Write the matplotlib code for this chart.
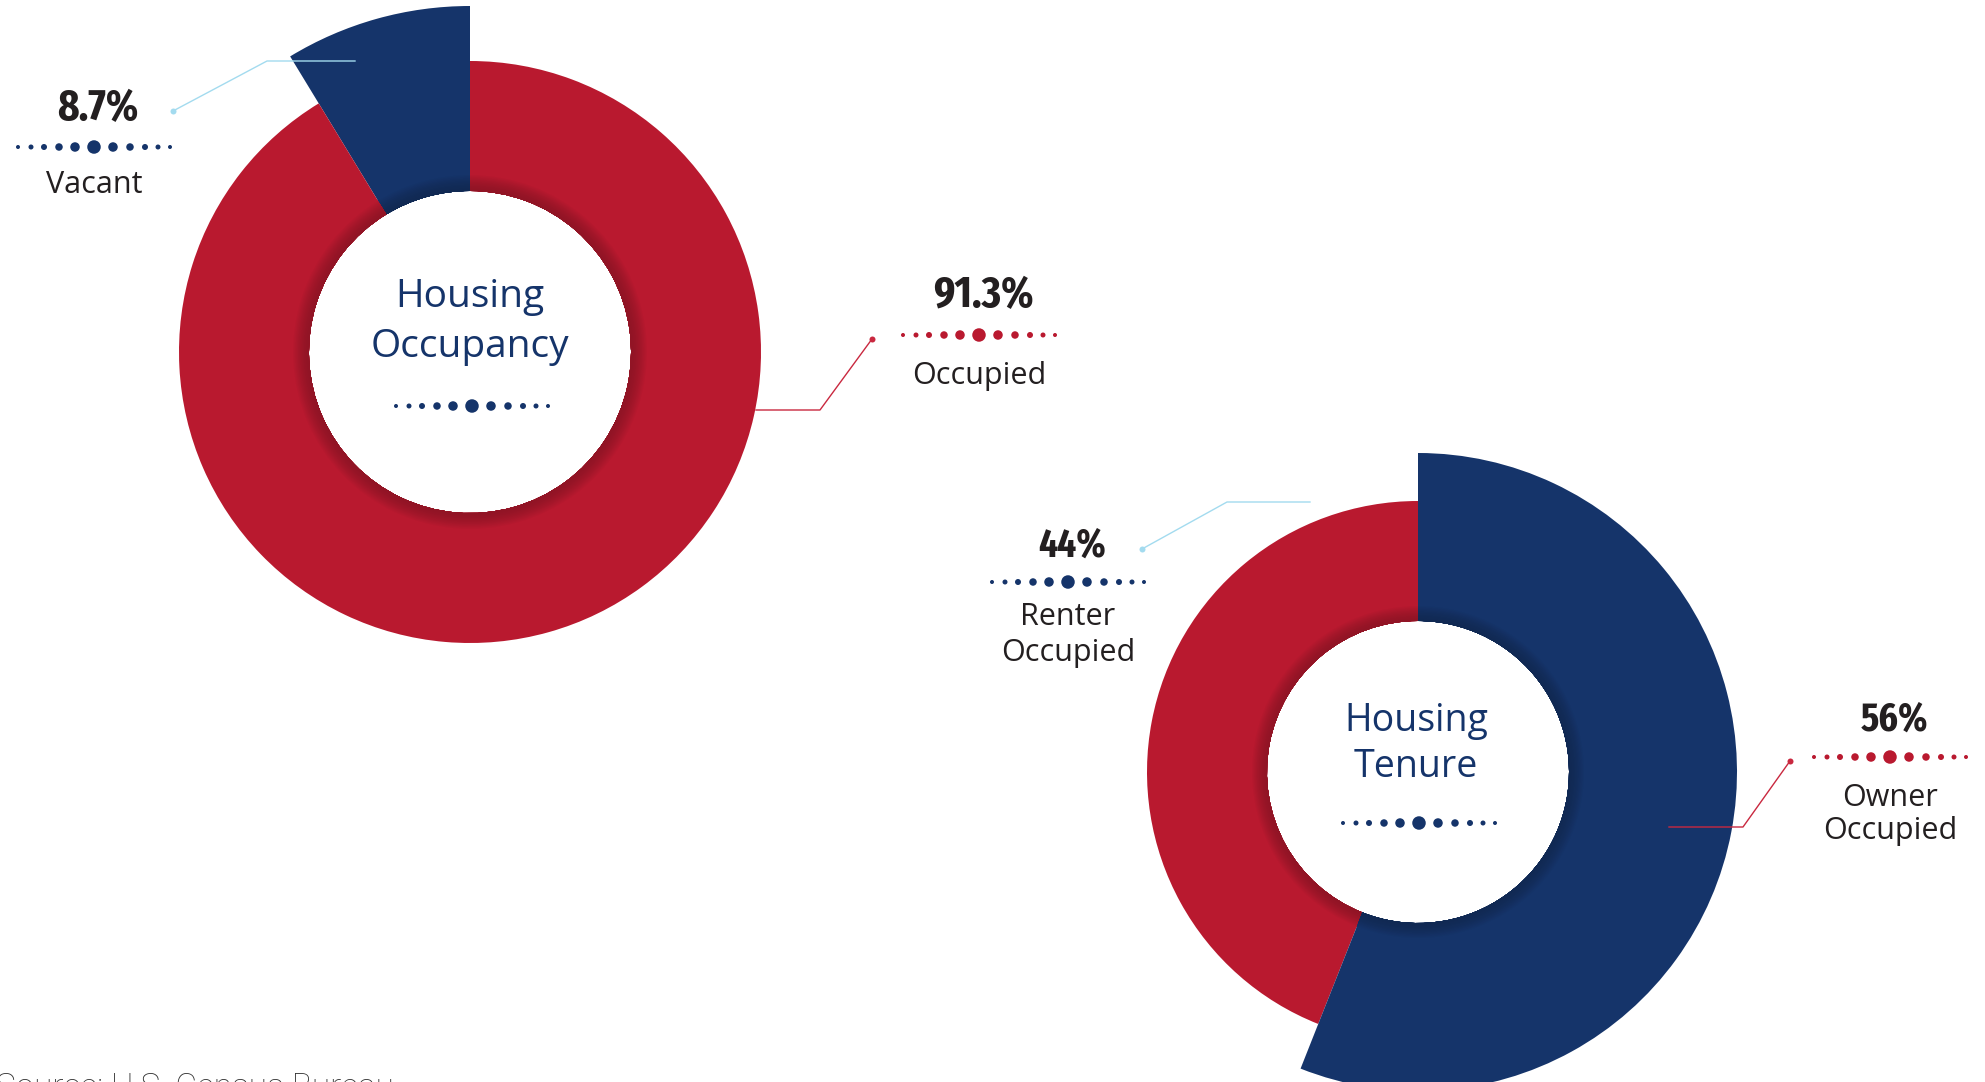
import numpy as np
import matplotlib.pyplot as plt
from matplotlib import font_manager as fm
from matplotlib.patches import Wedge
from matplotlib.colors import to_rgb

W, H = 1985, 1082

# data
occupancy_labels = ['Vacant', 'Occupied']
occupancy_values = [8.7, 91.3]
tenure_labels = ['Renter\nOccupied', 'Owner\nOccupied']
tenure_values = [44, 56]

RED = '#b9192f'
NAVY = '#15346a'
LIGHTBLUE = '#a3dbef'
LINERED = '#c9283f'
TXT = '#231f20'

LBL_FONT = ['Open Sans', 'DejaVu Sans']


def find_condensed_bold():
    # the numbers use a narrow bold face; take the narrowest bold that is installed
    found = []
    for f in fm.fontManager.ttflist:
        w = f.weight if isinstance(f.weight, int) else fm.weight_dict.get(f.weight, 400)
        st = f.stretch if isinstance(f.stretch, int) else fm.stretch_dict.get(f.stretch, 500)
        key = (f.name + ' ' + f.fname).lower().replace('-', '').replace(' ', '')
        if 'extracondensed' in key or 'ultracondensed' in key:
            st = min(st, 200)
        elif 'semicondensed' in key:
            st = min(st, 400)
        elif 'condensed' in key or 'narrow' in key:
            st = min(st, 300)
        if st < 500 and 600 <= w <= 800 and f.style == 'normal':
            found.append((st, abs(w - 700), f.fname))
    if found:
        found.sort()
        return fm.FontProperties(fname=found[0][2]), 1.0
    return fm.FontProperties(family='DejaVu Sans', weight='bold'), 0.74


NUM_PROP, NUM_SCALE = find_condensed_bold()

fig = plt.figure(figsize=(W / 100, H / 100), dpi=100)
ax = fig.add_axes([0, 0, 1, 1])


def Y(y):
    # picture rows run downwards, axes run upwards
    return H - y


def shade(c, f):
    r, g, b = to_rgb(c)
    return (r * (1 - f), g * (1 - f), b * (1 - f))


def donut(center, values, colors, radii, r_in, band):
    cx, cy = center
    wedges, _ = ax.pie(values, colors=colors, startangle=90, counterclock=True,
                       center=(cx, Y(cy)), radius=max(radii),
                       wedgeprops=dict(width=max(radii) - r_in, linewidth=0))
    for w, r, c in zip(wedges, radii, colors):
        w.set_radius(r)
        w.set_width(r - r_in)
        # darker inner band (shadow round the hole)
        n = 14
        for k in range(n, 0, -1):
            t = k / n
            rr = r_in + band * t
            dark = 0.22 * (1 - t ** 1.6)
            ax.add_patch(Wedge((cx, Y(cy)), rr, w.theta1, w.theta2, width=rr - r_in,
                               color=shade(c, dark), linewidth=0, zorder=2))
    return wedges


DOT_DX = [-76, -63, -50, -35, -19, 0, 19, 36, 51, 64, 76]
DOT_D = [4, 5, 6, 7.5, 9.5, 13.5, 9.5, 7.5, 6, 5, 4]


def dot_row(x, y, color):
    ax.scatter(np.array(DOT_DX) + x, np.full(len(DOT_DX), Y(y)),
               s=(np.array(DOT_D) * 0.72) ** 2, color=color, linewidths=0, zorder=5)


def leader(pts, color):
    xs = [p[0] for p in pts]
    ys = [Y(p[1]) for p in pts]
    ax.plot(xs, ys, color=color, lw=1.0, zorder=4)
    ax.scatter(xs[:1], ys[:1], s=(6 * 0.72) ** 2, color=color, linewidths=0, zorder=5)


def label(x, value, name, y_num, y_dots, y_lines, color, num_size):
    ax.text(x, Y(y_num), f'{value:g}%', ha='center', va='baseline',
            fontproperties=NUM_PROP, fontsize=num_size * NUM_SCALE, color=TXT)
    dot_row(x - 4, y_dots, color)
    for line, yl in zip(name.split('\n'), y_lines):
        ax.text(x - 4, Y(yl), line, ha='center', va='baseline', fontsize=22,
                family=LBL_FONT, fontweight='normal', color=TXT)


# Housing occupancy
donut((470, 352), occupancy_values, [NAVY, RED], [346, 291], 161, 17)
ax.text(470, Y(307), 'Housing', ha='center', va='baseline', fontsize=28,
        family=LBL_FONT, color=NAVY)
ax.text(470, Y(357), 'Occupancy', ha='center', va='baseline', fontsize=28,
        family=LBL_FONT, color=NAVY)
dot_row(472, 406, NAVY)

label(98, occupancy_values[0], occupancy_labels[0], 120, 147, [193], NAVY, 32)
leader([(173, 111), (267, 61), (355, 61)], LIGHTBLUE)
label(983, occupancy_values[1], occupancy_labels[1], 307, 335, [384], RED, 32)
leader([(872, 339), (820, 410), (756, 410)], LINERED)

# Housing tenure
donut((1418, 772), tenure_values, [RED, NAVY], [271, 319], 151, 16)
ax.text(1416, Y(731), 'Housing', ha='center', va='baseline', fontsize=27,
        family=LBL_FONT, color=NAVY)
ax.text(1416, Y(777), 'Tenure', ha='center', va='baseline', fontsize=27,
        family=LBL_FONT, color=NAVY)
dot_row(1419, 823, NAVY)

label(1072, tenure_values[0], tenure_labels[0], 557, 582, [625, 661], NAVY, 29)
leader([(1142, 549), (1227, 502), (1310, 502)], LIGHTBLUE)
label(1894, tenure_values[1], tenure_labels[1], 731, 757, [806, 839], RED, 29)
leader([(1790, 761), (1743, 827), (1669, 827)], LINERED)

ax.text(-4, Y(1097), 'Source: U.S. Census Bureau', ha='left', va='baseline', fontsize=24,
        family=['Roboto', 'DejaVu Sans'], fontweight='light', color='#333333')

ax.set_xlim(0, W)
ax.set_ylim(0, H)
ax.set_aspect('equal')
ax.axis('off')

fig.savefig('out.png', dpi=100, facecolor='white')
